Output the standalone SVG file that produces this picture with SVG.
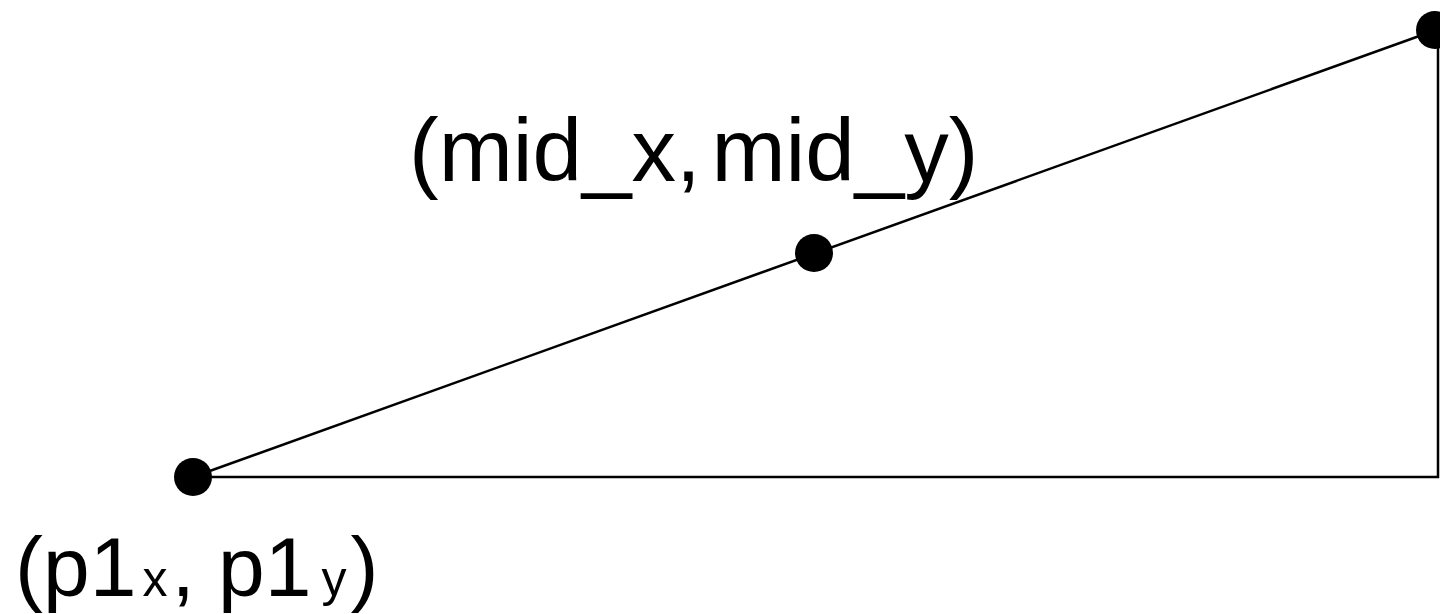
<svg xmlns="http://www.w3.org/2000/svg" width="1440" height="614" viewBox="0 0 1440 614">
  <style>
    .ln { stroke: #000; stroke-width: 2.5; fill: none; }
    .pt { fill: #000; }
    .lbl { font-family: "Liberation Sans", Arial, Helvetica, sans-serif; fill: #000; }
    .sub { font-size: 50px; }
  </style>
  <rect width="1440" height="614" fill="#fff"/>
  <g id="connectors">
    <line class="ln" x1="193" y1="477" x2="1436" y2="30"/>
    <line class="ln" x1="193" y1="477" x2="1439" y2="477"/>
    <line class="ln" x1="1438" y1="30" x2="1438" y2="478"/>
  </g>
  <g id="p1">
    <circle class="pt" cx="193" cy="477" r="19"/>
    <text class="lbl" y="596" font-size="84"><tspan x="15">(</tspan><tspan x="43">p</tspan><tspan x="89.7">1</tspan><tspan x="142.4" class="sub">x</tspan><tspan x="171.4">,</tspan><tspan x="218.1">p</tspan><tspan x="264.8">1</tspan><tspan x="321.5" class="sub">y</tspan><tspan x="350.5">)</tspan></text>
  </g>
  <g id="mid">
    <circle class="pt" cx="814" cy="253" r="19"/>
    <text class="lbl" y="181" font-size="89"><tspan x="409">(mid_x,</tspan><tspan x="711.4">mid_y)</tspan></text>
  </g>
  <g id="p2">
    <circle class="pt" cx="1435" cy="30" r="19"/>
  </g>
</svg>
